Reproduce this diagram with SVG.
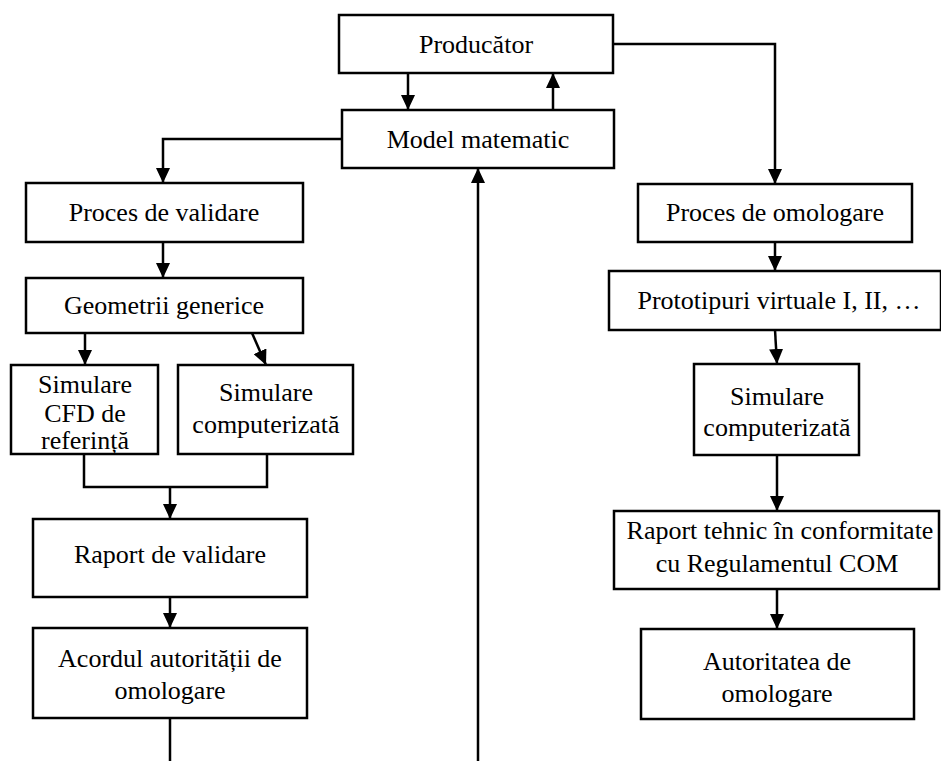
<svg xmlns="http://www.w3.org/2000/svg" width="941" height="761" viewBox="0 0 941 761">
<style>
.box{fill:#fff;stroke:#000;stroke-width:2.5}
.t{font-family:"Liberation Serif","Times New Roman",serif;font-size:26px;fill:#000;text-anchor:middle}
.c{fill:none;stroke:#000;stroke-width:2.5}
</style>
<defs>
<marker id="ah" markerUnits="userSpaceOnUse" markerWidth="16" markerHeight="14" refX="15" refY="7" orient="auto">
<path d="M0,0 L15,7 L0,14 z" fill="#000"/>
</marker>
</defs>
<rect width="941" height="761" fill="#fff"/>
<g id="connectors">
<line class="c" x1="408" y1="73" x2="408" y2="110" marker-end="url(#ah)"/>
<line class="c" x1="553" y1="110" x2="553" y2="73" marker-end="url(#ah)"/>
<polyline class="c" points="613,44 775,44 775,184" marker-end="url(#ah)"/>
<polyline class="c" points="342,139 163,139 163,183" marker-end="url(#ah)"/>
<line class="c" x1="163" y1="242" x2="163" y2="278" marker-end="url(#ah)"/>
<line class="c" x1="85" y1="333" x2="85" y2="365" marker-end="url(#ah)"/>
<line class="c" x1="252" y1="333" x2="266" y2="365" marker-end="url(#ah)"/>
<polyline class="c" points="84,454 84,487 267,487 267,454"/>
<line class="c" x1="170" y1="487" x2="170" y2="519" marker-end="url(#ah)"/>
<line class="c" x1="170" y1="597" x2="170" y2="628" marker-end="url(#ah)"/>
<line class="c" x1="170" y1="718" x2="170" y2="761"/>
<line class="c" x1="478" y1="761" x2="478" y2="168" marker-end="url(#ah)"/>
<line class="c" x1="775" y1="242" x2="775" y2="271" marker-end="url(#ah)"/>
<line class="c" x1="775" y1="330" x2="777" y2="364" marker-end="url(#ah)"/>
<line class="c" x1="777" y1="455" x2="777" y2="511" marker-end="url(#ah)"/>
<line class="c" x1="777" y1="589" x2="777" y2="629" marker-end="url(#ah)"/>
</g>
<g id="producator"><rect class="box" x="339" y="15" width="274" height="58"/><text class="t" x="476" y="53">Producător</text></g>
<g id="model"><rect class="box" x="342" y="110" width="272" height="58"/><text class="t" x="478" y="148">Model matematic</text></g>
<g id="validare"><rect class="box" x="26" y="183" width="277" height="59"/><text class="t" x="164" y="221">Proces de validare</text></g>
<g id="geometrii"><rect class="box" x="26" y="278" width="277" height="55"/><text class="t" x="164" y="314">Geometrii generice</text></g>
<g id="cfd"><rect class="box" x="11" y="365" width="147" height="89"/><text class="t" x="85" y="393">Simulare</text><text class="t" x="85" y="422">CFD de</text><text class="t" x="85" y="449">referință</text></g>
<g id="simcomp1"><rect class="box" x="178" y="365" width="175" height="89"/><text class="t" x="266" y="401">Simulare</text><text class="t" x="266" y="433">computerizată</text></g>
<g id="raportval"><rect class="box" x="33" y="519" width="274" height="78"/><text class="t" x="170" y="563">Raport de validare</text></g>
<g id="acordul"><rect class="box" x="33" y="628" width="274" height="90"/><text class="t" x="170" y="667">Acordul autorității de</text><text class="t" x="170" y="699">omologare</text></g>
<g id="omologare"><rect class="box" x="638" y="184" width="274" height="58"/><text class="t" x="775" y="221">Proces de omologare</text></g>
<g id="prototipuri"><rect class="box" x="609" y="271" width="332" height="59"/><text class="t" x="779" y="309">Prototipuri virtuale I, II, …</text></g>
<g id="simcomp2"><rect class="box" x="694" y="364" width="165" height="91"/><text class="t" x="777" y="405">Simulare</text><text class="t" x="777" y="436">computerizată</text></g>
<g id="raporttehnic"><rect class="box" x="614" y="511" width="325" height="78"/><text class="t" x="780" y="539">Raport tehnic în conformitate</text><text class="t" x="777" y="572">cu Regulamentul COM</text></g>
<g id="autoritatea"><rect class="box" x="641" y="629" width="273" height="90"/><text class="t" x="777" y="670">Autoritatea de</text><text class="t" x="777" y="702">omologare</text></g>
</svg>
